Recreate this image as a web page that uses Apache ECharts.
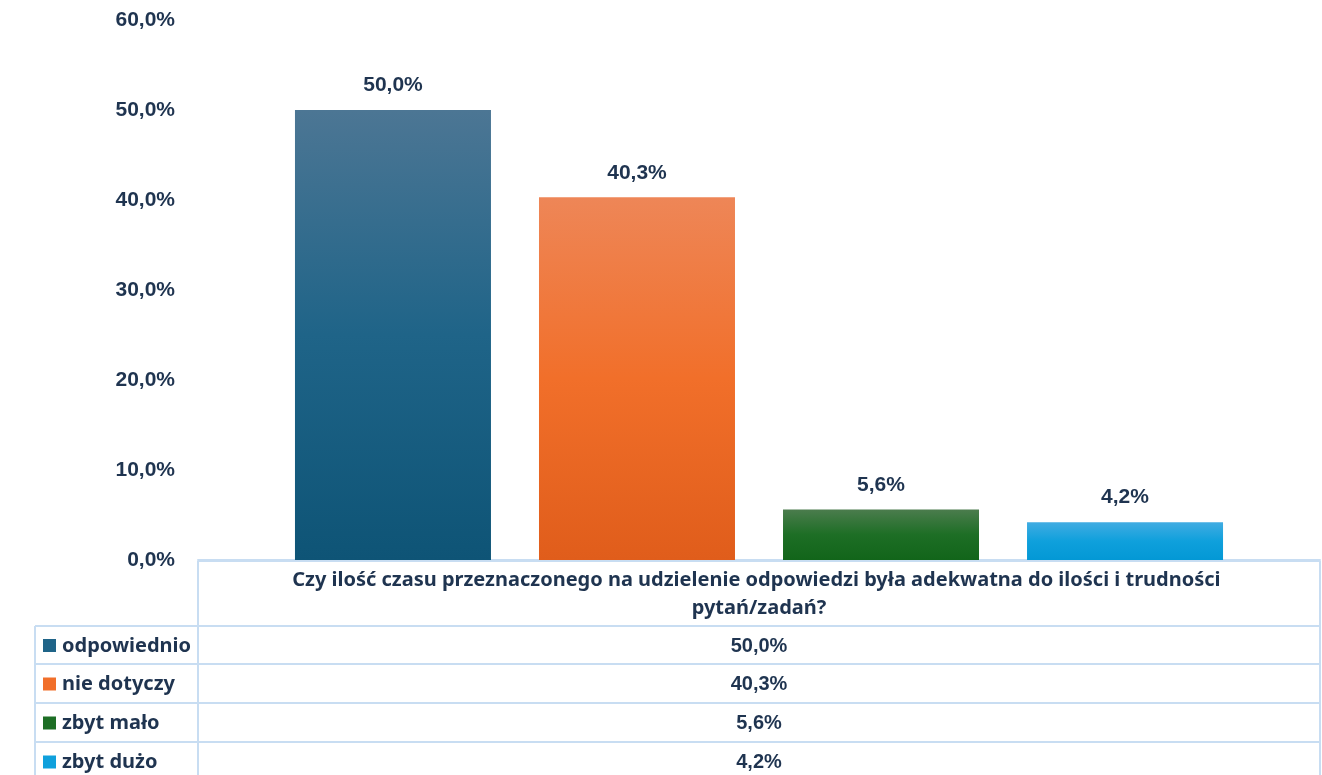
<!DOCTYPE html>
<html>
<head>
<meta charset="utf-8">
<script src="https://cdn.jsdelivr.net/npm/echarts@6/dist/echarts.min.js"></script>
<style>
html, body { margin: 0; padding: 0; background: #fff; }
#main { width: 1322px; height: 775px; }
</style>
</head>
<body>
<div id="main"></div>
<script>
// data
var question = ['Czy ilość czasu przeznaczonego na udzielenie odpowiedzi była adekwatna do ilości i trudności pytań/zadań?'];
var seriesNames = ['odpowiednio', 'nie dotyczy', 'zbyt mało', 'zbyt dużo'];
var seriesValues = [50.0, 40.3, 5.6, 4.2];
var yTicks = [0, 10, 20, 30, 40, 50, 60];

var gradients = [
    ['#4c7694', '#1f6488', '#0e5476'],
    ['#ee8657', '#f16f2a', '#e05d1b'],
    ['#4b7c4d', '#1d6e25', '#12651a'],
    ['#41ace2', '#0fa0dc', '#0398d5']
];
var textColor = '#1f3450';
var lineColor = '#c8ddf2';

function pct(v) {
    return v.toFixed(1).replace('.', ',') + '%';
}

var chart = echarts.init(document.getElementById('main'));
window.onresize = function () {
    chart.resize();
};

var series = [];
for (var i = 0; i < seriesNames.length; i++) {
    series.push({
        name: seriesNames[i],
        type: 'bar',
        barWidth: 196,
        barGap: '24.5%',
        data: [seriesValues[i]],
        itemStyle: {
            color: new echarts.graphic.LinearGradient(0, 0, 0, 1, [
                {offset: 0, color: gradients[i][0]},
                {offset: 0.5, color: gradients[i][1]},
                {offset: 1, color: gradients[i][2]}
            ])
        },
        label: {
            show: true,
            position: 'top',
            distance: 14,
            color: textColor,
            fontFamily: 'Liberation Sans, Arial',
            fontWeight: 'bold',
            fontSize: 21,
            formatter: function (p) { return pct(p.value); }
        }
    });
}

// data table below the plot
var tableLeft = 35, colX = 198, tableRight = 1320;
var headTop = 561, rowTops = [626, 664, 703, 742, 781];
var graphics = [];
function hline(x1, x2, y) {
    graphics.push({type: 'line', shape: {x1: x1, y1: y, x2: x2, y2: y}, style: {stroke: lineColor, lineWidth: 2}, silent: true});
}
function vline(x, y1, y2) {
    graphics.push({type: 'line', shape: {x1: x, y1: y1, x2: x, y2: y2}, style: {stroke: lineColor, lineWidth: 2}, silent: true});
}
hline(colX, tableRight, headTop);
for (var r = 0; r < rowTops.length; r++) {
    hline(tableLeft, tableRight, rowTops[r]);
}
vline(tableLeft, rowTops[0], 775);
vline(colX, headTop, 775);
vline(tableRight, headTop, 775);
for (var k = 0; k < seriesNames.length; k++) {
    var cy = (rowTops[k] + rowTops[k + 1]) / 2;
    graphics.push({
        type: 'rect',
        shape: {x: 43, y: cy - 6, width: 13, height: 13},
        style: {fill: gradients[k][1]}
    });
    graphics.push({
        type: 'text',
        x: 62, y: cy + 1,
        style: {
            text: seriesNames[k], fill: textColor, font: 'bold 20px "Noto Sans", sans-serif',
            textVerticalAlign: 'middle', textAlign: 'left'
        }
    });
    graphics.push({
        type: 'text',
        x: (colX + tableRight) / 2, y: cy + 1,
        style: {
            text: pct(seriesValues[k]), fill: textColor, font: 'bold 20px "Liberation Sans", Arial, sans-serif',
            textVerticalAlign: 'middle', textAlign: 'center'
        }
    });
}

var option = {
    backgroundColor: '#ffffff',
    animation: false,
    grid: {left: 198, right: 2, top: 20, bottom: 215},
    xAxis: {
        type: 'category',
        data: question,
        axisLine: {show: true, lineStyle: {color: lineColor, width: 2}},
        axisTick: {show: false},
        axisLabel: {
            color: textColor,
            fontFamily: '"Noto Sans", sans-serif',
            fontWeight: 'bold',
            fontSize: 20,
            lineHeight: 28,
            width: 1000,
            overflow: 'break',
            margin: 6
        }
    },
    yAxis: {
        type: 'value',
        min: 0,
        max: 60,
        interval: 10,
        splitLine: {show: false},
        axisLine: {show: false},
        axisTick: {show: false},
        axisLabel: {
            color: textColor,
            fontFamily: 'Liberation Sans, Arial',
            fontWeight: 'bold',
            fontSize: 21,
            margin: 23,
            formatter: function (v) { return yTicks.indexOf(v) >= 0 ? pct(v) : ''; }
        }
    },
    graphic: graphics,
    series: series
};
chart.setOption(option);
</script>
</body>
</html>
